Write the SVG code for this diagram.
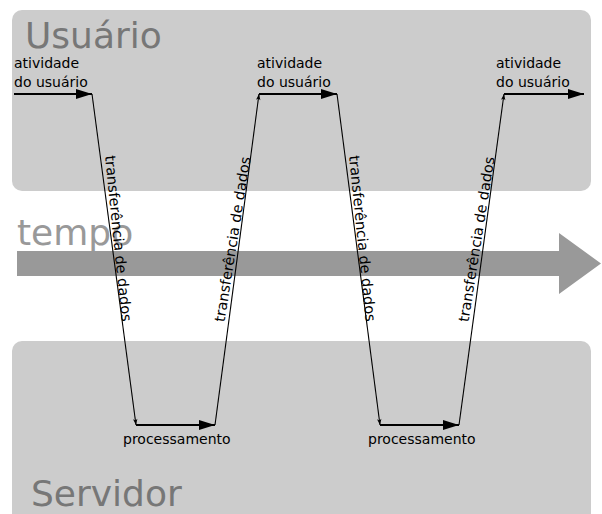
<svg xmlns="http://www.w3.org/2000/svg" width="602" height="514" viewBox="0 0 602 514">
  <style>
    .lane { fill: #cccccc; }
    .lane-title { font-family: "DejaVu Sans", "Liberation Sans", sans-serif; font-size: 36px; fill: #777777; }
    .axis-title { font-family: "DejaVu Sans", "Liberation Sans", sans-serif; font-size: 36px; fill: #999999; }
    .label { font-family: "DejaVu Sans", "Liberation Sans", sans-serif; font-size: 14px; fill: #000000; }
    .transfer-label { font-family: "DejaVu Sans", "Liberation Sans", sans-serif; font-size: 14.5px; fill: #000000; text-anchor: middle; }
    .step { stroke: #000000; stroke-width: 2; fill: none; marker-end: url(#head-big); }
    .transfer { stroke: #000000; stroke-width: 1.1; fill: none; marker-end: url(#head-small); }
  </style>
  <defs>
    <marker id="head-big" markerUnits="userSpaceOnUse" viewBox="-17 -6 18 12" refX="0" refY="0" markerWidth="18" markerHeight="12" orient="auto">
      <path d="M0,0 L-16,-5 L-16,5 Z" fill="#000000"/>
    </marker>
    <marker id="head-small" markerUnits="userSpaceOnUse" viewBox="-7 -4 8 8" refX="0" refY="0" markerWidth="8" markerHeight="8" orient="auto">
      <path d="M0,0 L-6,-2.2 L-4.5,0 L-6,2.2 Z" fill="#000000"/>
    </marker>
  </defs>

  <!-- client lane -->
  <g id="usuario">
    <rect class="lane" x="12" y="10" width="579" height="181" rx="10" ry="10"/>
    <text class="lane-title" x="25" y="48">Usuário</text>
  </g>

  <!-- server lane -->
  <g id="servidor">
    <rect class="lane" x="12" y="341" width="579" height="190" rx="10" ry="10"/>
    <text class="lane-title" x="31" y="506">Servidor</text>
  </g>

  <!-- time axis -->
  <g id="tempo">
    <path d="M17,251 L559,251 L559,233 L601,263.5 L559,294 L559,276 L17,276 Z" fill="#999999"/>
    <text class="axis-title" x="17" y="245">tempo</text>
  </g>

  <!-- activity labels -->
  <g id="atividade-1">
    <text class="label" x="14" y="68">atividade</text>
    <text class="label" x="14" y="87">do usuário</text>
  </g>
  <g id="atividade-2">
    <text class="label" x="257" y="68">atividade</text>
    <text class="label" x="257" y="87">do usuário</text>
  </g>
  <g id="atividade-3">
    <text class="label" x="496" y="68">atividade</text>
    <text class="label" x="496" y="87">do usuário</text>
  </g>
  <g id="processamento-1">
    <text class="label" x="123" y="444">processamento</text>
  </g>
  <g id="processamento-2">
    <text class="label" x="368" y="444">processamento</text>
  </g>

  <!-- connectors -->
  <g id="connectors">
    <line class="step" x1="14" y1="94" x2="92" y2="94"/>
    <line class="transfer" x1="92" y1="94" x2="136" y2="425"/>
    <line class="step" x1="136" y1="425" x2="215" y2="425"/>
    <line class="transfer" x1="215" y1="425" x2="259" y2="94"/>
    <line class="step" x1="259" y1="94" x2="337" y2="94"/>
    <line class="transfer" x1="337" y1="94" x2="380" y2="425"/>
    <line class="step" x1="380" y1="425" x2="459" y2="425"/>
    <line class="transfer" x1="459" y1="425" x2="504" y2="94"/>
    <line class="step" x1="504" y1="94" x2="584" y2="94"/>

    <!-- labels running along the transfer lines -->
    <text class="transfer-label" transform="translate(113.4,239) rotate(84.2)">transferência de dados</text>
    <text class="transfer-label" transform="translate(237.5,240) rotate(-81)">transferência de dados</text>
    <text class="transfer-label" transform="translate(357.4,239) rotate(84.2)">transferência de dados</text>
    <text class="transfer-label" transform="translate(481.5,240) rotate(-81)">transferência de dados</text>
  </g>
</svg>
